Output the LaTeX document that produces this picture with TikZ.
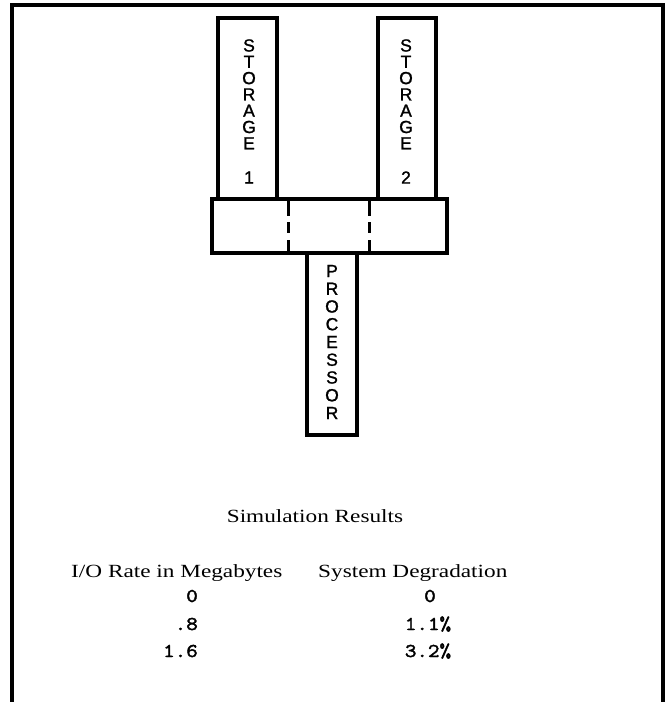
\documentclass[tikz,border=0pt]{standalone}
\usepackage{fontspec}
\setmainfont{Liberation Serif}[FakeStretch=1.25]
\newfontfamily\lettersf{Liberation Sans}[FakeBold=1.3]
\newfontfamily\numtt{Latin Modern Mono}[FakeStretch=1.15,FakeBold=2.2]
\begin{document}
\begin{tikzpicture}[x=1pt,y=-1pt,
  unitbox/.style={draw,line width=3.2pt,rectangle,inner sep=0pt},
  letter/.style={font=\lettersf\fontsize{17.5}{18}\selectfont,inner sep=0pt},
  caption/.style={font=\fontsize{18.6}{20}\selectfont,inner sep=0pt,anchor=base},
  numtext/.style={font=\numtt\fontsize{19.5}{20}\selectfont,inner sep=0pt},
  frameline/.style={line width=3.2pt}]
\useasboundingbox (0,0) rectangle (671,702);
% frame (open at the bottom)
\coordinate (fbl) at (12,702);
\coordinate (ftl) at (12,5);
\coordinate (ftr) at (663,5);
\coordinate (fbr) at (663,702);
\draw[frameline] (fbl) -- (ftl) -- (ftr) -- (fbr);
% boxes
\node[unitbox,minimum width=59pt,minimum height=181pt] (st1) at (247.5,108.5) {};
\node[unitbox,minimum width=58pt,minimum height=181pt] (st2) at (407,108.5) {};
\node[unitbox,minimum width=235pt,minimum height=54pt] (bar) at (329.5,226) {};
\node[unitbox,minimum width=50pt,minimum height=182pt] (proc) at (332,344) {};
% dashed separators
\coordinate (d1t) at (288,199); \coordinate (d1b) at (288,253);
\coordinate (d2t) at (369,199); \coordinate (d2b) at (369,253);
\draw[line width=3pt,dash pattern=on 17pt off 6pt on 11pt off 7pt on 14pt] (d1t) -- (d1b);
\draw[line width=3pt,dash pattern=on 17pt off 6pt on 11pt off 7pt on 14pt] (d2t) -- (d2b);
% letters
\foreach \ch [count=\i] in {S,T,O,R,A,G,E}{
  \node[letter] (sa\i) at (249,{45.5+16.3*(\i-1)}) {\ch};
  \node[letter] (sb\i) at (406,{45.5+16.3*(\i-1)}) {\ch};
}
\node[letter] (sa8) at (249,177.5) {1};
\node[letter] (sb8) at (406,177.5) {2};
\foreach \ch [count=\i] in {P,R,O,C,E,S,S,O,R}{
  \node[letter] (pr\i) at (332,{271+17.75*(\i-1)}) {\ch};
}
% results
\node[caption] (title) at (315,522) {Simulation Results};
\node[caption,anchor=base west] (h1) at (71,577) {I/O Rate in Megabytes};
\node[caption,anchor=base west] (h2) at (318,577) {System Degradation};
\node[numtext,anchor=base east] (a1) at (198,602) {0};
\node[numtext,anchor=base east] (a2) at (198,630) {.8};
\node[numtext,anchor=base east] (a3) at (198,657) {1.6};
\node[numtext,anchor=base] (b1) at (430,602) {0};
\node[numtext,anchor=base] (b2) at (428,630) {1.1\%};
\node[numtext,anchor=base] (b3) at (428,657) {3.2\%};
\end{tikzpicture}
\end{document}
